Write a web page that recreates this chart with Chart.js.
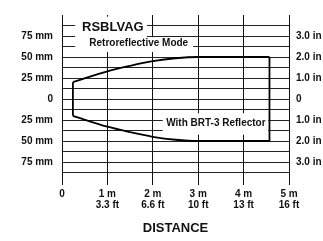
<!DOCTYPE html>
<html>
<head>
<meta charset="utf-8">
<script src="https://cdn.jsdelivr.net/npm/chart.js@4/dist/chart.umd.min.js"></script>
<style>
  html, body { margin: 0; padding: 0; background: #fff; }
  #wrap { width: 323px; height: 241px; }
</style>
</head>
<body>
<div id="wrap"><canvas id="chart_range"></canvas></div>
<script>
/* beam pattern data */
var distM = [0.24, 1.0, 1.5, 2.0, 2.5, 3.0, 4.57];
var upperMm = [20, 33, 39.5, 45, 48.5, 50, 50];
var lowerMm = [-20, -33, -39.5, -45, -48.5, -50, -50];
var xTickLabels = ["0", ["1 m", "3.3 ft"], ["2 m", "6.6 ft"], ["3 m", "10 ft"], ["4 m", "13 ft"], ["5 m", "16 ft"]];
var mmLabels = { "75": "75 mm", "50": "50 mm", "25": "25 mm", "0": "0", "-25": "25 mm", "-50": "50 mm", "-75": "75 mm" };
var inLabels = { "75": "3.0 in", "50": "2.0 in", "25": "1.0 in", "0": "0", "-25": "1.0 in", "-50": "2.0 in", "-75": "3.0 in" };
var boxTexts = ["RSBLVAG", "Retroreflective Mode", "With BRT-3 Reflector"];

var FONT = "'Liberation Sans', Arial, sans-serif";

function pts(xs, ys) {
    var out = [];
    for (var i = 0; i < xs.length; i++) out.push({ x: xs[i], y: ys[i] });
    return out;
}

var boxPlugin = {
    id: 'boxes',
    beforeDatasetsDraw: function (chart) {
        var c = chart.ctx, x = chart.scales.x, y = chart.scales.y;
        function rect(x0, x1, y0, y1) {
            var a = x.getPixelForValue(x0), b = x.getPixelForValue(x1);
            var t = y.getPixelForValue(y0), u = y.getPixelForValue(y1);
            c.fillStyle = '#fff';
            c.fillRect(a, t, b - a, u - t);
        }
        function text(s, vx, vy, size) {
            c.fillStyle = '#111';
            c.font = 'bold ' + size + 'px ' + FONT;
            c.textAlign = 'center';
            c.textBaseline = 'middle';
            c.fillText(s, x.getPixelForValue(vx), y.getPixelForValue(vy));
        }
        c.save();
        rect(0.29, 1.87, 98, 73.5);
        rect(0.29, 2.89, 73.5, 56);
        rect(2.22, 4.54, -17, -42.5);
        text(boxTexts[0], 1.12, 85, 13);
        text(boxTexts[1], 1.69, 65.8, 10);
        text(boxTexts[2], 3.39, -29, 10);
        c.restore();
    }
};

var lineStyle = {
    borderColor: '#000',
    borderWidth: 1.8,
    pointRadius: 0,
    showLine: true,
    fill: false
};

var ctx = document.getElementById("chart_range").getContext("2d");
var chart = new Chart(ctx, {
    type: 'scatter',
    data: {
        datasets: [
            Object.assign({ data: pts(distM, upperMm), cubicInterpolationMode: 'monotone' }, lineStyle),
            Object.assign({ data: pts(distM, lowerMm), cubicInterpolationMode: 'monotone' }, lineStyle),
            Object.assign({ data: pts([distM[0], distM[0]], [upperMm[0], lowerMm[0]]) }, lineStyle),
            Object.assign({ data: pts([distM[6], distM[6]], [upperMm[6], lowerMm[6]]) }, lineStyle)
        ]
    },
    plugins: [boxPlugin],
    options: {
        animation: false,
        responsive: true,
        maintainAspectRatio: false,
        layout: { padding: { top: 2, left: 0, right: 0, bottom: 0 } },
        plugins: {
            legend: { display: false },
            tooltip: { enabled: false }
        },
        scales: {
            x: {
                type: 'linear',
                min: 0, max: 5,
                border: { display: false },
                grid: { color: '#111', lineWidth: 1, drawTicks: true, tickLength: 2, tickColor: '#111' },
                ticks: {
                    stepSize: 1,
                    color: '#111',
                    padding: 4,
                    maxRotation: 0,
                    font: { family: FONT, size: 10, weight: 'bold', lineHeight: 1.1 },
                    callback: function (v) { return xTickLabels[Math.round(v)]; }
                },
                title: {
                    display: true,
                    text: 'DISTANCE',
                    color: '#111',
                    padding: { top: 10, bottom: 5 },
                    font: { family: FONT, size: 13, weight: 'bold' }
                },
                afterFit: function (s) { s.height = 58; }
            },
            y: {
                type: 'linear',
                position: 'left',
                min: -100, max: 100,
                border: { display: false },
                grid: {
                    drawTicks: false,
                    lineWidth: 1,
                    color: function (c) { return Math.abs(c.tick.value) >= 100 ? 'rgba(0,0,0,0)' : '#222'; }
                },
                ticks: {
                    stepSize: 12.5,
                    autoSkip: false,
                    color: '#111',
                    padding: 9,
                    font: { family: FONT, size: 10, weight: 'bold' },
                    callback: function (v) { var k = String(v); return mmLabels[k] !== undefined ? mmLabels[k] : ''; }
                },
                afterFit: function (s) { s.width = 62; }
            },
            y2: {
                type: 'linear',
                position: 'right',
                min: -100, max: 100,
                border: { display: false },
                grid: { display: false, drawTicks: false },
                ticks: {
                    stepSize: 12.5,
                    autoSkip: false,
                    color: '#111',
                    padding: 7,
                    font: { family: FONT, size: 10, weight: 'bold' },
                    callback: function (v) { var k = String(v); return inLabels[k] !== undefined ? inLabels[k] : ''; }
                },
                afterFit: function (s) { s.width = 34; }
            }
        }
    }
});
</script>
</body>
</html>
